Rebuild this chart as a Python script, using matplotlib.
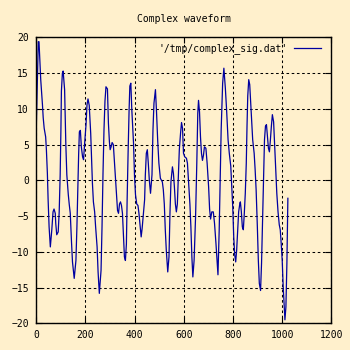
import matplotlib.pyplot as plt

# sample index / amplitude of the signal
xs = [0, 9, 12, 19, 26, 29, 33, 39, 42, 46, 49, 53, 58, 64, 69, 73, 78, 80, 84, 90,
      94, 98, 101, 103, 107, 110, 116, 121, 125, 131, 135, 139, 144, 148, 155, 162, 166, 170, 173, 176,
      180, 184, 189, 193, 197, 203, 207, 211, 216, 222, 226, 229, 233, 238, 242, 248, 252, 257, 264, 268,
      272, 276, 280, 284, 290, 294, 298, 301, 305, 309, 314, 318, 322, 327, 331, 335, 339, 343, 347, 351,
      355, 359, 363, 367, 370, 374, 378, 381, 385, 389, 396, 400, 404, 409, 414, 418, 422, 427, 431, 437,
      441, 444, 448, 452, 456, 460, 465, 471, 475, 479, 485, 489, 494, 499, 505, 513, 517, 521, 525, 529,
      535, 540, 544, 548, 554, 558, 562, 566, 570, 574, 578, 582, 587, 591, 595, 599, 604, 611, 615, 620,
      625, 629, 633, 637, 642, 648, 653, 657, 660, 664, 668, 672, 676, 680, 684, 690, 695, 701, 705, 709,
      714, 720, 725, 731, 736, 739, 744, 748, 752, 758, 763, 769, 774, 780, 785, 791, 795, 799, 803, 807,
      811, 815, 819, 823, 828, 830, 834, 838, 842, 846, 850, 854, 857, 860, 864, 868, 872, 876, 880, 886,
      890, 894, 899, 903, 907, 912, 916, 920, 924, 928, 932, 936, 940, 944, 948, 952, 956, 960, 965, 969,
      974, 978, 983, 988, 992, 996, 1000, 1004, 1008, 1011, 1015, 1019, 1023]
ys = [5.9, 19.4, 19.4, 14.1, 10.6, 8.8, 7.3, 6.1, 4.3, 1.0, -2.7, -6.5, -9.3, -6.9, -4.4, -4.0, -4.6, -6.0, -7.6, -7.2,
      -4.4, 0.8, 7.1, 12.5, 15.0, 15.3, 12.7, 5.0, 0.8, -2.0, -3.4, -4.6, -8.6, -11.4, -13.7, -11.2, -6.5, -0.9, 3.6, 6.8,
      7.0, 4.7, 3.3, 2.9, 5.0, 7.8, 10.6, 11.4, 10.5, 6.6, 2.4, -0.4, -3.0, -4.4, -6.5, -9.3, -12.8, -15.8, -12.6, -6.5,
      1.0, 7.1, 11.1, 13.1, 12.8, 8.0, 5.4, 4.3, 4.7, 5.3, 5.0, 2.8, 0.5, -2.3, -4.2, -4.6, -3.3, -3.0, -3.5, -4.6,
      -7.6, -10.7, -11.2, -8.9, -2.7, 4.0, 9.9, 13.2, 13.6, 9.9, 5.2, 0.6, -2.0, -3.3, -3.5, -4.6, -6.0, -7.9, -6.7, -4.2,
      -2.7, 0.8, 3.8, 4.3, 2.4, 0.1, -1.8, 0.8, 7.1, 10.8, 12.7, 9.9, 5.7, 2.4, 0.3, -0.2, -1.3, -3.3, -6.9, -9.7,
      -12.8, -10.7, -4.6, -0.2, 1.9, 1.0, -0.9, -3.3, -4.4, -3.3, 0.5, 4.3, 6.6, 8.1, 7.3, 3.8, 3.3, 3.1, 2.4, -0.4,
      -3.3, -6.5, -10.7, -13.5, -11.2, -5.1, 2.4, 9.4, 11.2, 9.6, 6.1, 3.8, 2.8, 3.5, 4.7, 4.5, 2.4, -0.9, -4.0, -5.4,
      -4.4, -4.4, -6.0, -8.9, -11.6, -13.2, -6.9, 0.5, 7.1, 13.6, 15.7, 12.9, 9.9, 5.7, 3.8, 2.0, -0.9, -3.7, -7.9, -10.4,
      -11.4, -9.7, -6.9, -4.4, -3.2, -3.0, -4.4, -6.5, -6.9, -4.6, -1.8, 2.4, 7.6, 11.8, 14.1, 13.4, 10.8, 8.0, 5.7, 3.8,
      1.5, -1.3, -6.5, -11.2, -14.4, -15.4, -11.6, -5.8, 0.5, 5.7, 7.6, 7.8, 6.1, 4.5, 4.0, 5.7, 7.6, 9.2, 8.2, 5.2,
      1.5, -1.8, -4.4, -6.2, -6.9, -8.9, -11.2, -14.9, -17.7, -19.5, -17.7, -11.6, -2.5]

bg = "#fff0cc"
font = "DejaVu Sans Mono"

fig = plt.figure(figsize=(3.5, 3.5), dpi=100, facecolor=bg)
ax = fig.add_axes([0.103, 0.076, 0.844, 0.817], facecolor=bg)

ax.plot(xs, ys, color="#0000a0", lw=0.9, label="'/tmp/complex_sig.dat'")

ax.set_xlim(0, 1200)
ax.set_ylim(-20, 20)
ax.set_xticks(range(0, 1201, 200))
ax.set_yticks(range(-20, 21, 5))
ax.grid(True, color="black", linestyle=(0, (2.5, 2.5)), lw=0.75)
ax.tick_params(direction="in", length=4, width=0.8, top=True, right=True,
               labelsize=7, pad=5, colors="black")
for lab in ax.get_xticklabels() + ax.get_yticklabels():
    lab.set_family(font)
for s in ax.spines.values():
    s.set_linewidth(1)

ax.set_title("Complex waveform", family=font, fontsize=7, pad=11)
leg = ax.legend(loc="upper right", bbox_to_anchor=(0.985, 1.0), frameon=False,
                prop={"family": font, "size": 7}, markerfirst=False,
                handlelength=2.8, borderaxespad=0.2, handletextpad=0.6)

fig.savefig("out.png", dpi=100, facecolor=bg)
